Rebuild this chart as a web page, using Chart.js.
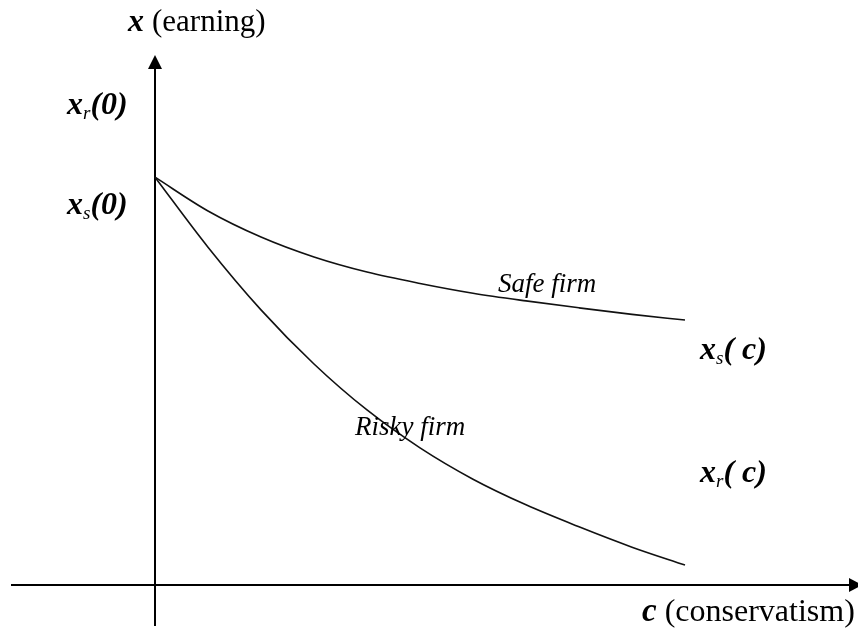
<!DOCTYPE html>
<html>
<head>
<meta charset="utf-8">
<script src="https://cdn.jsdelivr.net/npm/chart.js@4.4.1/dist/chart.umd.min.js"></script>
<style>
  html, body { margin: 0; padding: 0; background: #fff; }
  #wrap { width: 858px; height: 634px; position: relative; }
</style>
</head>
<body>
<div id="wrap"><canvas id="c"></canvas></div>
<script>
// ---- data (conceptual curves) ----
const cValues     = [0, 1, 2, 3, 4, 5, 6, 7, 8, 9, 10];
const safeValues  = [10.02, 9.19, 8.55, 8.06, 7.69, 7.41, 7.17, 6.98, 6.81, 6.65, 6.51];
const riskyValues = [10.02, 8.30, 6.76, 5.43, 4.30, 3.37, 2.60, 1.97, 1.43, 0.93, 0.49];
const seriesNames = ['Safe firm', 'Risky firm'];

// ---- scale extents (data units) ----
const X_MIN = -155 / 53, X_MAX = 703 / 53;
const Y_MIN = -49 / 40.7, Y_MAX = 585 / 40.7;

const SERIF = '"Liberation Serif", "Times New Roman", serif';

function toPts(vals) { return cValues.map((c, i) => ({ x: c, y: vals[i] })); }

// helper to draw mixed-style text runs
function drawRuns(ctx, x, y, runs) {
  let cx = x;
  for (const r of runs) {
    ctx.font = r.font;
    ctx.fillText(r.t, cx, y + (r.dy || 0));
    cx += ctx.measureText(r.t).width + (r.gap || 0);
  }
}

const axesPlugin = {
  id: 'axesAndLabels',
  beforeDatasetsDraw(chart) {
    const ctx = chart.ctx, xs = chart.scales.x, ys = chart.scales.y;
    const ox = xs.getPixelForValue(0), oy = ys.getPixelForValue(0);
    ctx.save();
    ctx.strokeStyle = '#000';
    ctx.fillStyle = '#000';
    ctx.lineWidth = 2;
    // vertical axis
    const vTop = ys.getPixelForValue((585 - 68) / 40.7);
    const vBot = ys.getPixelForValue((585 - 626) / 40.7);
    ctx.beginPath(); ctx.moveTo(ox, vBot); ctx.lineTo(ox, vTop); ctx.stroke();
    const vTip = ys.getPixelForValue((585 - 55) / 40.7);
    ctx.beginPath(); ctx.moveTo(ox, vTip); ctx.lineTo(ox - 7, vTop + 1); ctx.lineTo(ox + 7, vTop + 1); ctx.closePath(); ctx.fill();
    // horizontal axis
    const hLeft = xs.getPixelForValue((11 - 155) / 53);
    const hRight = xs.getPixelForValue((849 - 155) / 53);
    ctx.beginPath(); ctx.moveTo(hLeft, oy); ctx.lineTo(hRight, oy); ctx.stroke();
    const hTip = xs.getPixelForValue((862 - 155) / 53);
    ctx.beginPath(); ctx.moveTo(hTip, oy); ctx.lineTo(hRight, oy - 7); ctx.lineTo(hRight, oy + 7); ctx.closePath(); ctx.fill();
    ctx.restore();
  },
  afterDatasetsDraw(chart) {
    const ctx = chart.ctx, xs = chart.scales.x, ys = chart.scales.y;
    const ox = xs.getPixelForValue(0), oy = ys.getPixelForValue(0);
    ctx.save();
    ctx.fillStyle = '#000';
    ctx.textBaseline = 'alphabetic';
    ctx.textAlign = 'left';
    const BI = 'bold italic 32px ' + SERIF;
    const SUB = 'italic 19px ' + SERIF;
    // axis titles
    drawRuns(ctx, ox - 27, 31, [
      { t: 'x', font: 'bold italic 32px ' + SERIF, gap: 8 },
      { t: '(earning)', font: '31px ' + SERIF }
    ]);
    drawRuns(ctx, ox + 487, oy + 36, [
      { t: 'c', font: 'bold italic 33px ' + SERIF, gap: 8 },
      { t: '(conservatism)', font: '32px ' + SERIF }
    ]);
    // intercept labels
    const y0 = ys.getPixelForValue(safeValues[0]);
    drawRuns(ctx, ox - 88, y0 - 63, [
      { t: 'x', font: BI }, { t: 'r', font: SUB, dy: 5 }, { t: '(0)', font: BI }
    ]);
    drawRuns(ctx, ox - 88, y0 + 37, [
      { t: 'x', font: BI }, { t: 's', font: SUB, dy: 5 }, { t: '(0)', font: BI }
    ]);
    // end labels
    const xe = xs.getPixelForValue(cValues[cValues.length - 1]);
    drawRuns(ctx, xe + 15, ys.getPixelForValue(safeValues[safeValues.length - 1]) + 39, [
      { t: 'x', font: BI }, { t: 's', font: SUB, dy: 5 }, { t: '( c)', font: BI }
    ]);
    drawRuns(ctx, xe + 15, ys.getPixelForValue(riskyValues[riskyValues.length - 1]) - 83, [
      { t: 'x', font: BI }, { t: 'r', font: SUB, dy: 5 }, { t: '( c)', font: BI }
    ]);
    // series labels
    ctx.font = 'italic 27px ' + SERIF;
    ctx.fillText(seriesNames[0], xs.getPixelForValue((498 - 155) / 53), ys.getPixelForValue((585 - 292) / 40.7));
    ctx.fillText(seriesNames[1], xs.getPixelForValue((355 - 155) / 53), ys.getPixelForValue((585 - 435) / 40.7));
    ctx.restore();
  }
};

new Chart(document.getElementById('c'), {
  type: 'line',
  data: {
    datasets: [
      { label: seriesNames[0], data: toPts(safeValues), borderColor: '#111', borderWidth: 1.6,
        pointRadius: 0, fill: false, cubicInterpolationMode: 'monotone' },
      { label: seriesNames[1], data: toPts(riskyValues), borderColor: '#111', borderWidth: 1.6,
        pointRadius: 0, fill: false, cubicInterpolationMode: 'monotone' }
    ]
  },
  options: {
    responsive: true,
    maintainAspectRatio: false,
    animation: false,
    layout: { padding: 0 },
    plugins: { legend: { display: false }, tooltip: { enabled: false }, title: { display: false } },
    scales: {
      x: { type: 'linear', min: X_MIN, max: X_MAX, display: false },
      y: { type: 'linear', min: Y_MIN, max: Y_MAX, display: false }
    },
    elements: { line: { clip: false } }
  },
  plugins: [axesPlugin]
});
</script>
</body>
</html>
